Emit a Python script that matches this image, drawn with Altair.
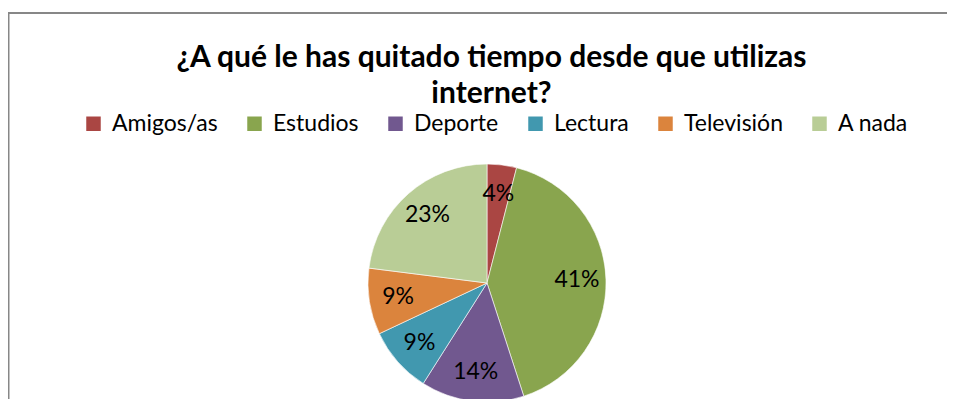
import altair as alt
import pandas as pd

categories = ["Amigos/as", "Estudios", "Deporte", "Lectura", "Televisión", "A nada"]
values = [4, 41, 14, 9, 9, 23]
colors = ["#AA4643", "#89A54E", "#71588F", "#4198AF", "#DB843D", "#B9CD96"]
title_lines = ["¿A qué le has quitado tiempo desde que utilizas", "internet?"]

df = pd.DataFrame({
    "cat": categories,
    "val": values,
    "idx": list(range(len(categories))),
    "label": [f"{v}%" for v in values],
})

W, H = 939, 391
CX, CY = 479, 275
R = 119

arcs = alt.Chart(df).mark_arc(radius=R, stroke="#ffffff", strokeWidth=0.6).encode(
    x=alt.value(CX),
    y=alt.value(CY),
    theta=alt.Theta("val:Q", stack=True),
    order=alt.Order("idx:Q"),
    color=alt.Color(
        "cat:N",
        sort=categories,
        scale=alt.Scale(domain=categories, range=colors),
        legend=alt.Legend(
            orient="none",
            legendX=74,
            legendY=104,
            direction="horizontal",
            title=None,
            symbolType="square",
            symbolSize=210,
            symbolStrokeWidth=0,
            symbolOpacity=1,
            labelFont="Lato",
            labelFontSize=23,
            labelColor="#000000",
            labelOffset=7,
            columnPadding=25,
            padding=0,
        ),
    ),
)

labels = alt.Chart(df).mark_text(radius=90, font="Lato", fontSize=23, color="#000000").encode(
    x=alt.value(CX),
    y=alt.value(CY),
    theta=alt.Theta("val:Q", stack=True),
    order=alt.Order("idx:Q"),
    text="label:N",
)

frame = alt.Chart(pd.DataFrame({"a": [0]})).mark_rect(
    fillOpacity=0, stroke="#878787", strokeWidth=2
).encode(
    x=alt.value(0.5), x2=alt.value(1200), y=alt.value(5), y2=alt.value(1200)
)

chart = alt.layer(frame, arcs, labels).properties(
    width=W,
    height=H,
    autosize=alt.AutoSizeParams(type="none"),
    padding=0,
    title=alt.TitleParams(
        text=title_lines,
        font="Lato",
        fontSize=30,
        fontWeight="bold",
        color="#000000",
        lineHeight=36,
        anchor="middle",
        baseline="top",
        offset=0,
        dx=14,
        dy=101,
    ),
).configure_view(strokeWidth=0)

chart.save("out.html", embed_options={"renderer": "svg", "actions": False})
